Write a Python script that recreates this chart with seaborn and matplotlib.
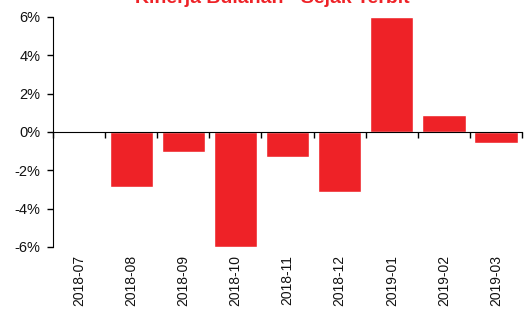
import numpy as np
import pandas as pd
import matplotlib
matplotlib.use("Agg")
import matplotlib.pyplot as plt
import seaborn as sns
from matplotlib.ticker import FuncFormatter, FixedLocator

# monthly performance since launch (%)
months = ["2018-07", "2018-08", "2018-09", "2018-10", "2018-11",
          "2018-12", "2019-01", "2019-02", "2019-03"]
returns = [0.0, -2.87, -1.03, -6.0, -1.28, -3.13, 6.0, 0.89, -0.57]
title = "Kinerja Bulanan - Sejak Terbit"
red = "#EE2227"

df = pd.DataFrame({"month": months, "ret": returns})

sns.set_style("white")
plt.rcParams["font.family"] = ["Liberation Sans", "DejaVu Sans"]

fig = plt.figure(figsize=(5.3, 3.13), dpi=100)
ax = fig.add_axes([0.1, 0.2109, 0.885, 0.7348])

sns.barplot(data=df, x="month", y="ret", color=red, saturation=1,
            width=0.83, ax=ax)

ax.set_xlim(-0.5, len(months) - 0.5)
ax.set_ylim(-6, 6)
ax.set_yticks([-6, -4, -2, 0, 2, 4, 6])
ax.yaxis.set_major_formatter(FuncFormatter(lambda v, p: f"{v:.0f}%"))
ax.tick_params(axis="y", left=True, length=4, width=1, color="black",
               labelsize=10.5, pad=5, labelcolor="#111111")

# zero line with ticks between the bars
for s in ["top", "right"]:
    ax.spines[s].set_visible(False)
ax.spines["left"].set_color("black")
ax.spines["bottom"].set_color("black")
ax.spines["bottom"].set_position(("data", 0))
ax.xaxis.set_minor_locator(FixedLocator(np.arange(len(months) + 1) - 0.5))
ax.tick_params(axis="x", which="minor", bottom=True, length=4, width=1,
               color="black")
ax.tick_params(axis="x", which="major", bottom=False, labelbottom=False)
ax.set_xlabel("")
ax.set_ylabel("")

# month labels at the bottom of the plot area
sec = ax.secondary_xaxis(0)
sec.set_xticks(range(len(months)))
sec.set_xticklabels(months, rotation=90)
sec.tick_params(length=0, labelsize=10, pad=6, labelcolor="#111111")
sec.spines["bottom"].set_visible(False)

fig.text(272 / 530, 1 - 3 / 313, title, color=red, fontsize=14,
         fontweight="bold", ha="center", va="baseline")

fig.savefig("out.png", dpi=100)
